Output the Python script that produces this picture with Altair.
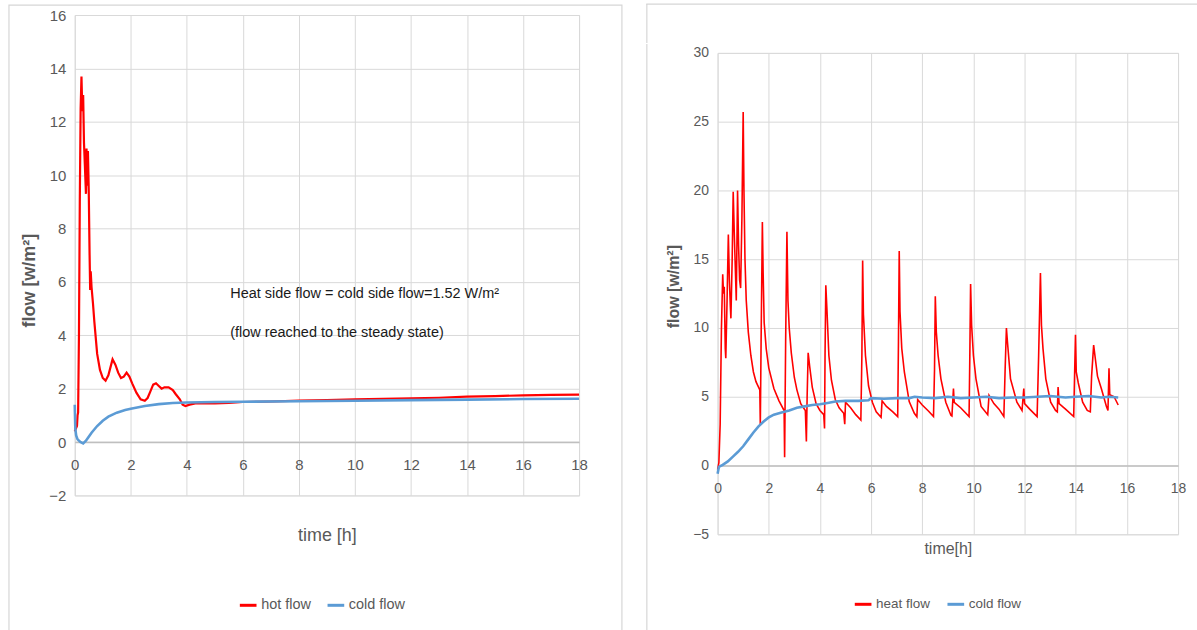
import altair as alt
import pandas as pd

FONT = "Liberation Sans, sans-serif"
GREY = "#595959"
GRID = "#d9d9d9"
FRAME = "#d6d6d6"
RED = "#ff0000"
BLUE = "#5b9bd5"

# ---------------- left chart data ----------------
left_series = ["hot flow", "cold flow"]
left_hot_t = [0.0, 0.04, 0.08, 0.1, 0.12, 0.15, 0.18, 0.21, 0.24, 0.27, 0.3, 0.33, 0.36, 0.4,
              0.42, 0.45, 0.47, 0.5, 0.53, 0.55, 0.57, 0.6, 0.65, 0.7, 0.8, 0.9, 1.0, 1.1, 1.2,
              1.3, 1.35, 1.45, 1.55, 1.65, 1.75, 1.85, 1.95, 2.05, 2.2, 2.35, 2.5, 2.6, 2.7, 2.8,
              2.9, 3.0, 3.1, 3.2, 3.35, 3.5, 3.6, 3.75, 3.85, 3.95, 4.1, 4.3, 5.0, 5.5, 6.0, 7.0,
              8.0, 9.0, 10.0, 11.0, 12.0, 13.0, 14.0, 15.0, 16.0, 17.0, 18.0]
left_hot_v = [0.4, 0.5, 0.6, 1.0, 1.1, 4.0, 9.0, 12.5, 13.7, 12.4, 13.0, 11.2, 10.4, 9.3,
              11.0, 9.6, 10.9, 9.4, 7.0, 5.7, 6.4, 5.8, 5.2, 4.5, 3.3, 2.7, 2.4, 2.3, 2.5,
              2.9, 3.1, 2.9, 2.6, 2.4, 2.45, 2.6, 2.45, 2.2, 1.85, 1.6, 1.55, 1.65, 1.9, 2.15,
              2.2, 2.1, 2.0, 2.05, 2.05, 1.95, 1.8, 1.6, 1.4, 1.35, 1.4, 1.45, 1.45, 1.47, 1.5, 1.52,
              1.55, 1.57, 1.6, 1.62, 1.64, 1.66, 1.7, 1.72, 1.75, 1.77, 1.78]
left_cold_t = [0.0, 0.02, 0.05, 0.1, 0.2, 0.3, 0.4, 0.5, 0.6, 0.8, 1.0, 1.2, 1.5, 1.8, 2.0,
               2.5, 3.0, 3.5, 4.0, 5.0, 6.0, 8.0, 10.0, 12.0, 14.0, 16.0, 18.0]
left_cold_v = [1.4, 0.5, 0.25, 0.1, 0.0, -0.05, 0.05, 0.2, 0.35, 0.6, 0.8, 0.95, 1.1, 1.2, 1.25,
               1.35, 1.42, 1.46, 1.48, 1.5, 1.51, 1.53, 1.55, 1.57, 1.59, 1.61, 1.62]
left_x_ticks = [0, 2, 4, 6, 8, 10, 12, 14, 16, 18]
left_y_ticks = [-2, 0, 2, 4, 6, 8, 10, 12, 14, 16]
note_lines = ["Heat side flow = cold side flow=1.52 W/m\u00b2",
              "(flow reached to the steady state)"]
note_t = [5.55, 5.55]
note_v = [5.56, 4.07]

# ---------------- right chart data ----------------
right_series = ["heat flow", "cold flow"]
right_heat_t = [0.0, 0.05, 0.1, 0.15, 0.2, 0.23, 0.26, 0.3, 0.32, 0.37, 0.42, 0.46, 0.5, 0.52,
                0.57, 0.61, 0.65, 0.69, 0.73, 0.78, 0.82, 0.86, 0.9, 0.95, 1.0, 1.03, 1.07, 1.12,
                1.2, 1.3, 1.4, 1.5, 1.6, 1.65, 1.67, 1.7, 1.75, 1.78, 1.82, 1.9, 2.0, 2.2, 2.4,
                2.6, 2.62, 2.66, 2.71, 2.75, 2.8, 2.88, 3.0, 3.1, 3.25, 3.43, 3.47, 3.5, 3.54,
                3.6, 3.7, 3.85, 4.0, 4.15, 4.18, 4.2, 4.23, 4.27, 4.35, 4.45, 4.6, 4.75, 4.93,
                4.97, 5.0, 5.2, 5.4, 5.6, 5.64, 5.67, 5.7, 5.78, 5.9, 6.05, 6.2, 6.39, 6.43, 6.6,
                6.85, 7.04, 7.07, 7.1, 7.13, 7.2, 7.3, 7.49, 7.69, 7.79, 7.82, 8.0, 8.25, 8.44,
                8.48, 8.51, 8.55, 8.62, 8.73, 8.92, 9.12, 9.16, 9.22, 9.25, 9.5, 9.83, 9.86, 9.89,
                9.93, 10.0, 10.1, 10.3, 10.56, 10.61, 10.8, 11.0, 11.19, 11.24, 11.29, 11.33,
                11.45, 11.7, 11.9, 11.97, 12.0, 12.2, 12.49, 12.55, 12.62, 12.66, 12.72, 12.83,
                13.02, 13.21, 13.28, 13.31, 13.35, 13.6, 13.92, 13.96, 13.99, 14.02, 14.1, 14.27,
                14.45, 14.57, 14.62, 14.7, 14.75, 14.85, 15.0, 15.2, 15.26, 15.3, 15.33, 15.5,
                15.66]
right_heat_v = [-0.3, 0.2, 3.0, 10.0, 13.9, 12.5, 13.0, 8.5, 7.8, 12.0, 16.8, 13.5, 11.5, 10.7,
                15.0, 19.9, 17.0, 14.5, 12.0, 20.0, 16.0, 13.5, 12.9, 18.0, 25.7, 20.0, 15.0, 12.0,
                9.7, 8.0, 6.8, 6.1, 5.7, 5.5, 2.96, 9.0, 17.7, 14.0, 10.4, 8.5, 7.1, 5.6, 4.7,
                4.0, 0.6, 9.0, 17.0, 12.0, 10.0, 8.2, 6.4, 5.5, 4.5, 4.0, 1.75, 5.0, 8.2,
                7.2, 5.7, 4.5, 4.0, 3.7, 2.7, 8.0, 13.1, 11.5, 8.0, 6.2, 4.8, 4.2, 3.8,
                3.0, 4.6, 4.2, 3.7, 3.3, 8.0, 14.9, 11.0, 8.0, 5.8, 4.6, 3.9, 3.5, 4.7, 4.3,
                3.9, 3.56, 9.0, 15.6, 11.2, 8.5, 6.8, 4.65, 3.8, 3.55, 4.8, 4.4, 3.95, 3.56,
                7.0, 12.3, 9.7, 8.0, 6.3, 4.6, 3.65, 3.6, 5.6, 4.6, 4.2, 3.56, 8.0, 13.2,
                10.2, 8.0, 6.3, 4.3, 3.7, 5.1, 4.5, 4.1, 3.56, 7.0, 10.0, 9.0,
                6.3, 4.6, 4.0, 5.6, 4.5, 4.1, 3.56, 8.0, 14.0, 10.2, 8.5, 6.3,
                4.6, 4.0, 3.9, 5.7, 4.5, 4.1, 3.56, 7.0, 9.5, 6.8, 6.0, 4.6,
                4.0, 3.9, 6.5, 8.75, 8.0, 6.5, 5.6, 4.3, 4.0, 7.07, 5.15, 5.0,
                4.4]
right_cold_t = [0.0, 0.05, 0.2, 0.4, 0.6, 0.8, 1.0, 1.2, 1.4, 1.6, 1.8, 2.0, 2.2, 2.5, 2.8, 3.1,
                3.4, 3.7, 4.0, 4.3, 4.6, 5.0, 5.5, 5.9, 6.0, 6.5, 7.0, 7.5, 7.7, 8.0, 8.5, 9.0,
                9.5, 10.0, 10.5, 11.0, 11.5, 12.0, 12.5, 13.0, 13.3, 13.6, 14.0, 14.5, 15.0,
                15.3, 15.66]
right_cold_v = [-0.6, -0.1, 0.05, 0.3, 0.65, 1.0, 1.4, 1.9, 2.4, 2.85, 3.2, 3.5, 3.7, 3.85, 4.0,
                4.2, 4.3, 4.4, 4.45, 4.55, 4.65, 4.7, 4.7, 4.75, 4.9, 4.85, 4.9, 4.9, 5.0, 4.95,
                4.9, 5.0, 4.9, 4.95, 5.0, 4.9, 4.95, 4.95, 5.0, 5.05, 5.0, 4.95, 5.0, 5.05, 4.95,
                5.0, 4.95]
right_x_ticks = [0, 2, 4, 6, 8, 10, 12, 14, 16, 18]
right_y_ticks = [-5, 0, 5, 10, 15, 20, 25, 30]


def frame(names, hot_t, hot_v, cold_t, cold_v):
    return pd.DataFrame({
        "time": hot_t + cold_t,
        "flow": hot_v + cold_v,
        "series": [names[0]] * len(hot_t) + [names[1]] * len(cold_t),
        "idx": list(range(len(hot_t))) + list(range(len(cold_t))),
    })


def panel(df, names, ydom, xticks, yticks, o):
    color = alt.Color("series:N", scale=alt.Scale(domain=names, range=[RED, BLUE]),
                      legend=alt.Legend(orient="none", legendX=o["legx"], legendY=o["legy"],
                                        title=None, direction="horizontal",
                                        symbolType="stroke", symbolStrokeWidth=3,
                                        symbolSize=280, labelFont=FONT,
                                        labelFontSize=o["legsize"], labelColor=GREY,
                                        columnPadding=10, labelOffset=3))
    x = alt.X("time:Q", scale=alt.Scale(domain=[0, 18], nice=False),
              axis=alt.Axis(values=xticks, offset=o["xoff"], labelFlush=False, ticks=False,
                            domainColor="#bfbfbf", domainWidth=1.5, gridColor=GRID,
                            labelFont=FONT, labelFontSize=o["lab"], labelColor=GREY,
                            labelPadding=o["xlabpad"], title=o["xtitle"], titleFont=FONT,
                            titleFontSize=o["xtsize"], titleFontWeight="normal",
                            titleColor=GREY, titlePadding=o["xtpad"]))
    y = alt.Y("flow:Q", scale=alt.Scale(domain=ydom, nice=False, zero=False),
              axis=alt.Axis(values=yticks, ticks=False, domain=False, gridColor=GRID,
                            labelFont=FONT, labelFontSize=o["lab"], labelColor=GREY,
                            labelPadding=9, title="flow [w/m\u00b2]", titleFont=FONT,
                            titleFontSize=o["ytsize"], titleFontWeight="bold",
                            titleColor=GREY, titleX=o["ytx"], titleY=o["yty"],
                            titleAngle=270, titleAlign="center", titleBaseline="bottom"))
    hot = alt.Chart(df).transform_filter(alt.datum.series == names[0]).mark_line(
        strokeWidth=o["hotw"]).encode(x=x, y=y, color=color, order="idx:Q")
    cold = alt.Chart(df).transform_filter(alt.datum.series == names[1]).mark_line(
        strokeWidth=2.6).encode(x=x, y=y, color=color, order="idx:Q")
    return hot, cold


one = pd.DataFrame({"a": [0]})


def border_bar(x, x2, y, y2):
    # thin filled rectangle used as a panel border line (decoration only)
    return alt.Chart(one).mark_rect(fill=FRAME, strokeWidth=0).encode(
        x=alt.value(x), x2=alt.value(x2), y=alt.value(y), y2=alt.value(y2))


left_df = frame(left_series, left_hot_t, left_hot_v, left_cold_t, left_cold_v)
right_df = frame(right_series, right_heat_t, right_heat_v, right_cold_t, right_cold_v)

lh, lc = panel(left_df, left_series, [-2, 16], left_x_ticks, left_y_ticks,
               dict(xoff=-53.6, xtitle="time [h]", lab=15, xlabpad=16, xtsize=18, xtpad=54,
                    ytsize=18, ytx=-36, yty=266, hotw=2.2, legx=164, legy=582, legsize=14.5))
note_df = pd.DataFrame({"time": note_t, "flow": note_v, "text": note_lines})
note = alt.Chart(note_df).mark_text(align="left", baseline="middle", font=FONT, fontSize=14.5,
                                    color="#1a1a1a").encode(
    x=alt.X("time:Q"), y=alt.Y("flow:Q"), text="text:N")
left_box = alt.Chart(one).mark_rect(fill=None, stroke=FRAME, strokeWidth=1.2).encode(
    x=alt.value(-66), x2=alt.value(549), y=alt.value(-10), y2=alt.value(625))
left = alt.layer(left_box, lh, lc, note).properties(width=506, height=482)

rh, rc = panel(right_df, right_series, [-5, 30], right_x_ticks, right_y_ticks,
               dict(xoff=-69, xtitle="time[h]", lab=14, xlabpad=16, xtsize=16, xtpad=45,
                    ytsize=16, ytx=-36, yty=234, hotw=1.6, legx=136, legy=581, legsize=13.5))
right_edge = border_bar(-71.6, -70.4, -9, 590)
right = alt.layer(right_edge, rh, rc).properties(width=462, height=483)

spacer = alt.layer(
    border_bar(-71.6, 481, -11.6, -10.4),
    border_bar(-71.6, -70.4, -11, 28),
).properties(width=1, height=28,
             view=alt.ViewBackground(fill="white", stroke="white", strokeWidth=0))
right_col = alt.vconcat(spacer, right, spacing=0)

chart = alt.hconcat(left, right_col, spacing=21).resolve_scale(color="independent").properties(
    padding={"left": 7, "top": 2, "right": 0, "bottom": 0}
).configure_view(strokeWidth=0, stroke="transparent").configure(background="white")

chart.save("out.html", embed_options={"renderer": "svg", "actions": False})
